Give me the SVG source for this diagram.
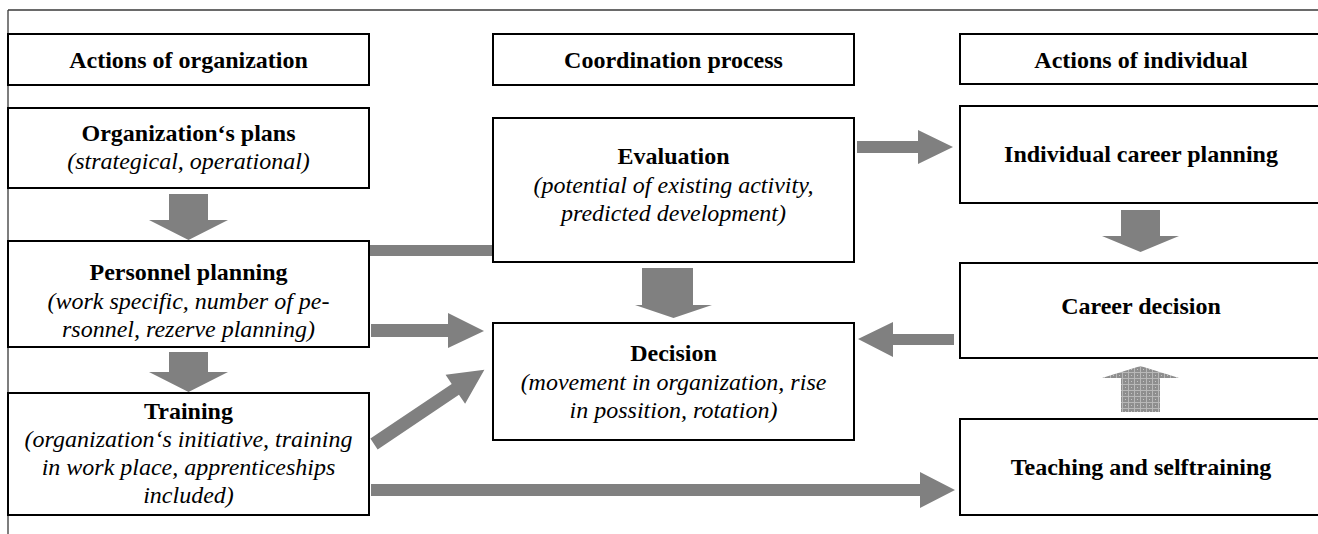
<svg xmlns="http://www.w3.org/2000/svg" width="1318" height="534" viewBox="0 0 1318 534">
<defs>
<style>
.box{fill:#fff;stroke:#000;stroke-width:2}
.frame{fill:none;stroke:#3a3a3a;stroke-width:1.3}
.arr{fill:#808080;stroke:none}
.t{font-family:'Liberation Serif',Tinos,'Times New Roman',Times,'Nimbus Roman','DejaVu Serif',serif;font-size:24px;font-weight:bold;text-anchor:middle;fill:#000}
.i{font-family:'Liberation Serif',Tinos,'Times New Roman',Times,'Nimbus Roman','DejaVu Serif',serif;font-size:24px;font-style:italic;text-anchor:middle;fill:#000}
</style>
<pattern id="grid" width="6" height="6" patternUnits="userSpaceOnUse">
<rect width="6" height="6" fill="#8e8e8e"/>
<path d="M0 0.5H6M0.5 0V6" stroke="#b8b8b8" stroke-width="1"/>
<rect x="3" y="3" width="1" height="1" fill="#c4c4c4"/>
</pattern>
</defs>
<rect width="1318" height="534" fill="#fff"/>
<path class="frame" d="M8 10H1318M8 10V534"/>

<g id="connectors">
<polygon id="c-plans-personnel" class="arr" points="169,194 208,194 208,220 228,220 188.5,240 149,220 169,220"/>
<polygon id="c-personnel-training" class="arr" points="169,352 208,352 208,372 228,372 188.5,392 149,372 169,372"/>
<rect id="c-personnel-evaluation" class="arr" x="369" y="245" width="124" height="11"/>
<polygon id="c-personnel-decision" class="arr" points="371,324 448,324 448,313 484,331 448,348 448,337 371,337"/>
<polygon id="c-training-decision" class="arr" transform="translate(374,444) rotate(-33.9)" points="0,-6.5 98,-6.5 98,-17.5 133,0 98,17.5 98,6.5 0,6.5"/>
<polygon id="c-training-teaching" class="arr" points="371,484 920,484 920,472 955,490 920,508 920,496 371,496"/>
<polygon id="c-evaluation-decision" class="arr" points="642,268 693,268 693,305 712,305 673.5,318 635,305 642,305"/>
<polygon id="c-evaluation-icp" class="arr" points="857,141 918,141 918,130 953,147 918,164 918,153 857,153"/>
<polygon id="c-career-decision" class="arr" points="954,334 893,334 893,322 858,339 893,357 893,345 954,345"/>
<polygon id="c-icp-career" class="arr" points="1121,210 1160,210 1160,236 1179,236 1140.5,252 1102,236 1121,236"/>
<polygon id="c-teaching-career" points="1121,412 1160,412 1160,378 1179,378 1140.5,366 1102,378 1121,378" fill="url(#grid)"/>
</g>

<g id="h-org"><rect class="box" x="8" y="34" width="361" height="51"/><text class="t" x="188.5" y="68">Actions of organization</text></g>
<g id="h-coord"><rect class="box" x="493" y="34" width="361" height="51"/><text class="t" x="673.5" y="68">Coordination process</text></g>
<g id="h-ind"><rect class="box" x="960" y="34" width="370" height="50"/><text class="t" x="1141" y="68">Actions of individual</text></g>

<g id="plans"><rect class="box" x="8" y="108" width="361" height="80"/>
<text class="t" x="188.5" y="141">Organization‘s plans</text>
<text class="i" x="188.5" y="169">(strategical, operational)</text></g>

<g id="personnel"><rect class="box" x="8" y="241" width="361" height="106"/>
<text class="t" x="188.5" y="280">Personnel planning</text>
<text class="i" x="188.5" y="309">(work specific, number of pe-</text>
<text class="i" x="188.5" y="337">rsonnel, rezerve planning)</text></g>

<g id="training"><rect class="box" x="8" y="393" width="361" height="122"/>
<text class="t" x="188.5" y="419">Training</text>
<text class="i" x="188.5" y="447">(organization‘s initiative, training</text>
<text class="i" x="188.5" y="475">in work place, apprenticeships</text>
<text class="i" x="188.5" y="503">included)</text></g>

<g id="evaluation"><rect class="box" x="493" y="118" width="361" height="144"/>
<text class="t" x="673.5" y="164">Evaluation</text>
<text class="i" x="673.5" y="193">(potential of existing activity,</text>
<text class="i" x="673.5" y="221">predicted development)</text></g>

<g id="decision"><rect class="box" x="493" y="323" width="361" height="117"/>
<text class="t" x="673.5" y="361">Decision</text>
<text class="i" x="673.5" y="390">(movement in organization, rise</text>
<text class="i" x="673.5" y="418">in possition, rotation)</text></g>

<g id="icp"><rect class="box" x="960" y="106" width="370" height="97"/>
<text class="t" x="1141" y="162">Individual career planning</text></g>

<g id="career"><rect class="box" x="960" y="263" width="370" height="95"/>
<text class="t" x="1141" y="314">Career decision</text></g>

<g id="teaching"><rect class="box" x="960" y="419" width="370" height="96"/>
<text class="t" x="1141" y="475">Teaching and selftraining</text></g>
</svg>
